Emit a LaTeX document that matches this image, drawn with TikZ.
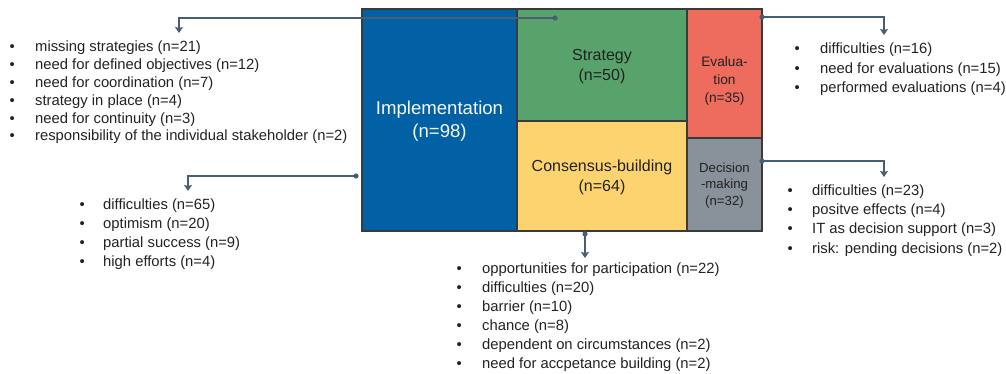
\documentclass[tikz,border=0pt]{standalone}
\usepackage{fontspec}
\setmainfont{Liberation Sans}
\usetikzlibrary{arrows.meta}

\definecolor{implblue}{RGB}{2,97,165}
\definecolor{stratgreen}{RGB}{88,163,108}
\definecolor{consyellow}{RGB}{253,211,112}
\definecolor{evalred}{RGB}{237,108,94}
\definecolor{decgrey}{RGB}{137,145,154}
\definecolor{edge}{RGB}{58,58,58}
\definecolor{connc}{RGB}{74,94,114}
\definecolor{txt}{RGB}{34,34,34}

% list body: a bullet column of given width, then the item text
\newcommand{\bulletrow}[2]{\makebox[#1][l]{\textbullet}#2}

\begin{document}
\begin{tikzpicture}[x=1pt,y=-1pt,
  box/.style={rectangle, draw=edge, line width=1.1pt, inner sep=0pt},
  lbl/.style={align=center, inner sep=0pt, text=txt},
  listtext/.style={inner sep=0pt, text=txt, anchor=base west},
  conn/.style={draw=connc, line width=1.3pt, -{Stealth[length=6pt,width=8pt,inset=1pt]}},
  dot/.style={fill=connc}]
\useasboundingbox (0,0) rectangle (1006,374);

% tree-map boxes
\node[box, fill=implblue, minimum width=155pt, minimum height=222pt] (impl) at (439.5,120) {};
\node[box, fill=stratgreen, minimum width=170pt, minimum height=112pt] (strat) at (602,65) {};
\node[box, fill=consyellow, minimum width=170pt, minimum height=110pt] (cons) at (602,176) {};
\node[box, fill=evalred, minimum width=75pt, minimum height=129pt] (eval) at (724.5,73.5) {};
\node[box, fill=decgrey, minimum width=75pt, minimum height=93pt] (dec) at (724.5,184.5) {};

% box labels
\node[lbl, text=white!94!gray, font=\fontsize{18.6}{23}\selectfont] (impltxt) at (439.5,121.5) {Implementation\\(n=98)};
\node[lbl, font=\fontsize{16}{19.5}\selectfont] (strattxt) at (602,66.5) {Strategy\\(n=50)};
\node[lbl, font=\fontsize{16}{20.5}\selectfont] (constxt) at (602,177.5) {Consensus-building\\(n=64)};
\node[lbl, font=\fontsize{13.7}{18}\selectfont] (evaltxt) at (724.5,81) {Evalua-\\tion\\(n=35)};
\node[lbl, font=\fontsize{13.2}{16.5}\selectfont] (dectxt) at (724.5,185.5) {Decision\\-making\\(n=32)};

% category lists
\node[listtext] (stratlist) at (9.5,52) {\fontsize{14.8}{17.8}\selectfont
  \begin{tabular}[t]{@{}l@{}}
  \bulletrow{25.5pt}{missing strategies (n=21)}\\
  \bulletrow{25.5pt}{need for defined objectives (n=12)}\\
  \bulletrow{25.5pt}{need for coordination (n=7)}\\
  \bulletrow{25.5pt}{strategy in place (n=4)}\\
  \bulletrow{25.5pt}{need for continuity (n=3)}\\
  \bulletrow{25.5pt}{responsibility of the individual stakeholder (n=2)}
  \end{tabular}};
\node[listtext] (impllist) at (79.5,210) {\fontsize{14.8}{19}\selectfont
  \begin{tabular}[t]{@{}l@{}}
  \bulletrow{23.5pt}{difficulties (n=65)}\\
  \bulletrow{23.5pt}{optimism (n=20)}\\
  \bulletrow{23.5pt}{partial success (n=9)}\\
  \bulletrow{23.5pt}{high efforts (n=4)}
  \end{tabular}};
\node[listtext] (evallist) at (794.5,54) {\fontsize{14.8}{19.2}\selectfont
  \begin{tabular}[t]{@{}l@{}}
  \bulletrow{25.5pt}{difficulties (n=16)}\\
  \bulletrow{25.5pt}{need for evaluations (n=15)}\\
  \bulletrow{25.5pt}{performed evaluations (n=4)}
  \end{tabular}};
\node[listtext] (declist) at (787.5,195.5) {\fontsize{14.8}{19.2}\selectfont
  \begin{tabular}[t]{@{}l@{}}
  \bulletrow{24.5pt}{difficulties (n=23)}\\
  \bulletrow{24.5pt}{positve effects (n=4)}\\
  \bulletrow{24.5pt}{IT as decision support (n=3)}\\
  \bulletrow{24.5pt}{risk: pending decisions (n=2)}
  \end{tabular}};
\node[listtext] (conslist) at (456.5,273.5) {\fontsize{14.8}{19}\selectfont
  \begin{tabular}[t]{@{}l@{}}
  \bulletrow{25.5pt}{opportunities for participation (n=22)}\\
  \bulletrow{25.5pt}{difficulties (n=20)}\\
  \bulletrow{25.5pt}{barrier (n=10)}\\
  \bulletrow{25.5pt}{chance (n=8)}\\
  \bulletrow{25.5pt}{dependent on circumstances (n=2)}\\
  \bulletrow{25.5pt}{need for accpetance building (n=2)}
  \end{tabular}};

% connector end points
\coordinate (stratsrc) at (555,18);
\coordinate (stratdst) at (179,33);
\coordinate (implsrc) at (356,176);
\coordinate (impldst) at (188,191);
\coordinate (evalsrc) at (762,17);
\coordinate (evaldst) at (884,35);
\coordinate (decsrc) at (762,161);
\coordinate (decdst) at (884,177);
\coordinate (conssrc) at (585,234);
\coordinate (consdst) at (585,258);

% connectors
\draw[conn] (stratsrc) -| (stratdst);
\draw[conn] (implsrc) -| (impldst);
\draw[conn] (evalsrc) -| (evaldst);
\draw[conn] (decsrc) -| (decdst);
\draw[conn] (conssrc) -- (consdst);
\foreach \p in {stratsrc,implsrc,evalsrc,decsrc,conssrc}
  \fill[dot] (\p) circle (2.6);
\end{tikzpicture}
\end{document}
